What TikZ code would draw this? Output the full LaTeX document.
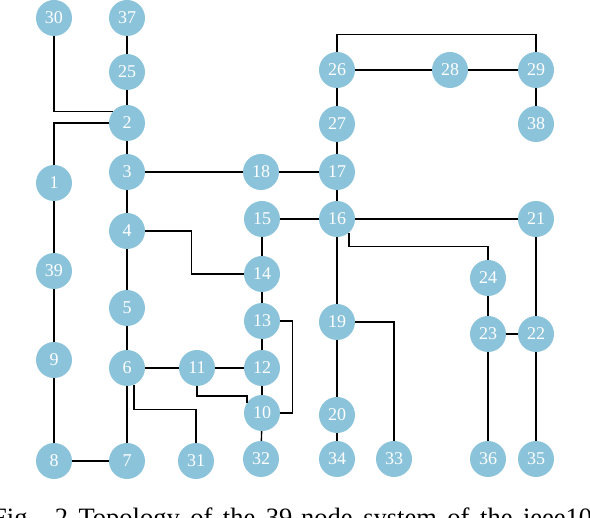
\documentclass[tikz,border=0pt]{standalone}
\usepackage{fontspec}
\setmainfont{Liberation Serif}
\definecolor{busblue}{HTML}{8BC3DB}
\begin{document}
\begin{tikzpicture}[x=1pt,y=-1pt,
  bus/.style={circle,fill=busblue,draw=none,minimum size=36pt,inner sep=0pt,
    text=white,font=\fontsize{18}{18}\selectfont},
  link/.style={draw=black,line width=1.4pt}]
\useasboundingbox (0,0) rectangle (590,518);
% nodes
\node[bus] (30) at (54,18) {30};
\node[bus] (37) at (127,18) {37};
\node[bus] (25) at (127,72) {25};
\node[bus] (2) at (127,123) {2};
\node[bus] (1) at (54,183) {1};
\node[bus] (3) at (127,172) {3};
\node[bus] (18) at (261,172) {18};
\node[bus] (17) at (337,172) {17};
\node[bus] (26) at (337,70) {26};
\node[bus] (28) at (450,70) {28};
\node[bus] (29) at (536,70) {29};
\node[bus] (27) at (337,124) {27};
\node[bus] (38) at (536,124) {38};
\node[bus] (15) at (262,219) {15};
\node[bus] (16) at (337,219) {16};
\node[bus] (21) at (536,219) {21};
\node[bus] (4) at (127,231) {4};
\node[bus] (14) at (262,274) {14};
\node[bus] (24) at (488,278) {24};
\node[bus] (39) at (54,271) {39};
\node[bus] (5) at (127,308) {5};
\node[bus] (13) at (262,321) {13};
\node[bus] (19) at (337,322) {19};
\node[bus] (23) at (488,334) {23};
\node[bus] (22) at (536,334) {22};
\node[bus] (9) at (54,360) {9};
\node[bus] (6) at (127,368) {6};
\node[bus] (11) at (197,368) {11};
\node[bus] (12) at (262,368) {12};
\node[bus] (10) at (262,413) {10};
\node[bus] (20) at (337,415) {20};
\node[bus] (8) at (54,461) {8};
\node[bus] (7) at (127,461) {7};
\node[bus] (31) at (196,461) {31};
\node[bus] (32) at (261,459) {32};
\node[bus] (34) at (337,459) {34};
\node[bus] (33) at (394,459) {33};
\node[bus] (36) at (488,459) {36};
\node[bus] (35) at (536,459) {35};
% connectors
\draw[link] (37) -- (25);
\draw[link] (25) -- (2);
\draw[link] (2) -- (3);
\draw[link] (3) -- (4);
\draw[link] (4) -- (5);
\draw[link] (5) -- (6);
\draw[link] (6) -- (7);
\draw[link] (8) -- (7);
\draw[link] (9) -- (8);
\draw[link] (39) -- (9);
\draw[link] (1) -- (39);
\draw[link] (1.north) |- (2.west);
\draw[link] (30.south) |- (2.142);
\draw[link] (3) -- (18);
\draw[link] (18) -- (17);
\draw[link] (17) -- (16);
\draw[link] (17) -- (27);
\draw[link] (27) -- (26);
\draw[link] (26) -- (28);
\draw[link] (28) -- (29);
\draw[link] (26.north) -- ++(0,-17) -| (29.north);
\draw[link] (29) -- (38);
\draw[link] (15) -- (16);
\draw[link] (16) -- (21);
\draw[link] (16.-48) -- ++(0,14) -| (24.north);
\draw[link] (16) -- (19);
\draw[link] (19) -- (20);
\draw[link] (20) -- (34);
\draw[link] (19.east) -| (33.north);
\draw[link] (24) -- (23);
\draw[link] (23) -- (22);
\draw[link] (21) -- (22);
\draw[link] (22) -- (35);
\draw[link] (23) -- (36);
\draw[link] (4.east) -- ++(46,0) |- (14.west);
\draw[link] (15) -- (14);
\draw[link] (14) -- (13);
\draw[link] (13) -- (12);
\draw[link] (12) -- (10);
\draw[link] (13.east) -- ++(12,0) |- (10.east);
\draw[link] (6) -- (11);
\draw[link] (11) -- (12);
\draw[link] (11.south) -- ++(0,10) -| (10.146);
\draw[link] (6.-67) -- ++(0,25) -| (31.north);
\draw[link] (10) -- (32);
% caption (cut by the page edge, as in the reference)
\node[anchor=base west,inner sep=0pt,font=\fontsize{26.5}{26.5}\selectfont] (cap) at (-8,527)
  {\makebox[600pt][s]{Fig. 2 Topology of the 39-node system of the ieee10}};
\end{tikzpicture}
\end{document}
